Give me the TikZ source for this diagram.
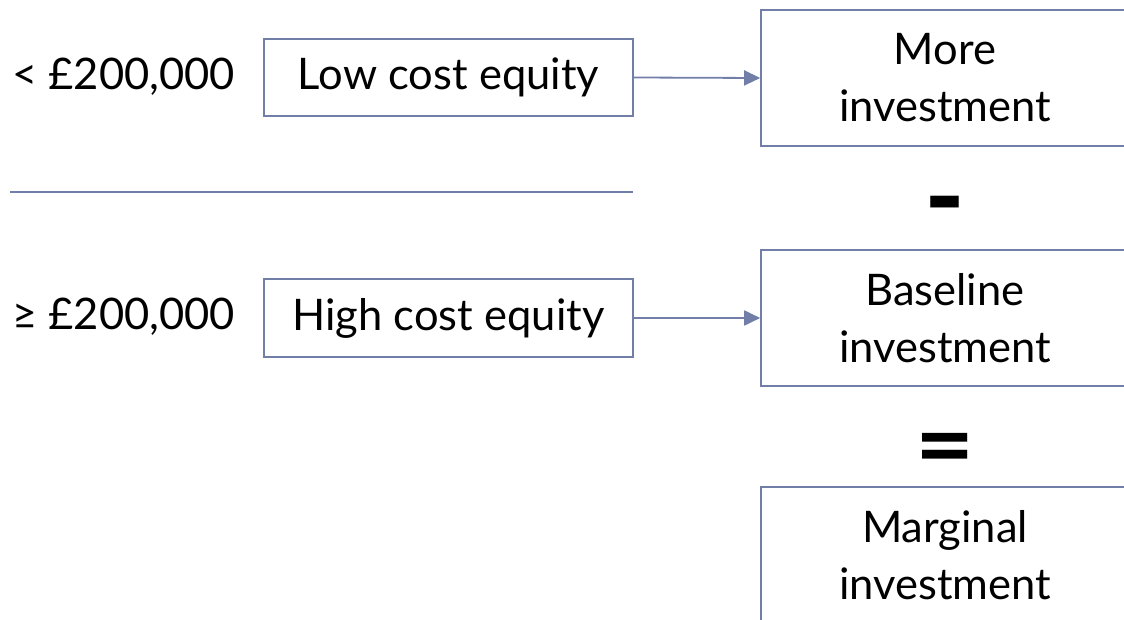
\documentclass[tikz,border=0pt]{standalone}
\usepackage{fontspec}
\setmainfont{Lato}
\usetikzlibrary{arrows.meta}
\definecolor{frame}{RGB}{112,126,168}
\tikzset{
  box/.style={draw=frame, line width=1.6pt, rectangle, inner sep=0pt,
    align=center, font=\fontsize{43.5}{57}\selectfont},
  label/.style={inner sep=0pt, font=\fontsize{43.5}{57}\selectfont},
  operator/.style={inner sep=0pt, font=\fontsize{60}{60}\bfseries\selectfont},
  flow/.style={draw=frame, line width=1.8pt, -{Triangle[length=16pt,width=15pt]}},
}
\begin{document}
\begin{tikzpicture}[x=1pt, y=-1pt]
  \clip (0,0) rectangle (1124,620);
  % left column: thresholds and cost of equity
  \node[label, anchor=west] (lt) at (12,77) {< £200,000};
  \node[label, anchor=west] (ge) at (12,317) {≥ £200,000};
  \node[box, minimum width=369pt, minimum height=77pt] (low) at (448.5,77.5) {Low cost equity};
  \node[box, minimum width=369pt, minimum height=78pt] (high) at (448.5,318) {High cost equity};
  % separator between the two cases
  \coordinate (sepL) at (10,192);
  \coordinate (sepR) at (633,192);
  \draw[frame, line width=2.2pt] (sepL) -- (sepR);
  % right column: investment outcomes
  \node[box, minimum width=368pt, minimum height=136pt] (more) at (945,78) {More\\investment};
  \node[box, minimum width=368pt, minimum height=136pt] (base) at (945,318) {Baseline\\investment};
  \node[box, minimum width=368pt, minimum height=136pt] (marg) at (945,555) {Marginal\\investment};
  % operators
  \node[operator] (minus) at (945,216.5) {\scalebox{1.83}[1.9]{-}};
  \node[operator] (eq) at (945,455.7) {\scalebox{1.7}[1.6]{=}};
  % connectors
  \draw[flow] (low.east) -- (more.west);
  \draw[flow] (high.east) -- (base.west);
\end{tikzpicture}
\end{document}
